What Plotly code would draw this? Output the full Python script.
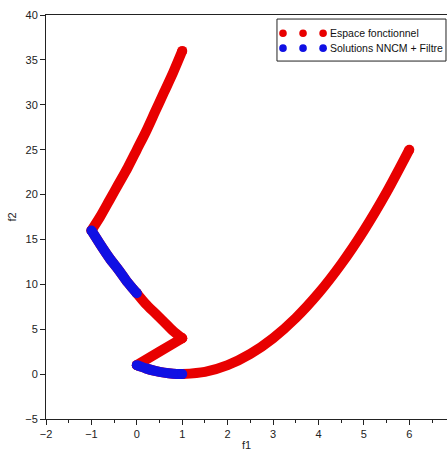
import plotly.graph_objects as go

# ---- data (f1, f2) ----
seg_a_f1 = [1.0, 0.8, 0.6, 0.4, 0.2, 0.0, -0.2, -0.4, -0.6, -0.8, -1.0]
seg_a_f2 = [36.0, 33.6, 31.4, 29.2, 27.0, 25.0, 23.0, 21.2, 19.4, 17.6, 16.0]

seg_b_f1 = [-1.0, -0.8, -0.6, -0.4, -0.2, 0.0]
seg_b_f2 = [16.0, 14.4, 12.9, 11.6, 10.2, 9.0]

seg_c_f1 = [0.0, 0.2, 0.4, 0.6, 0.8, 1.0]
seg_c_f2 = [9.0, 7.8, 6.8, 5.8, 4.8, 4.0]

seg_d_f1 = [1.0, 0.5, 0.0]
seg_d_f2 = [4.0, 2.5, 1.0]

seg_e_f1 = [0.0, 0.2, 0.4, 0.6, 0.8, 1.0]
seg_e_f2 = [1.0, 0.64, 0.36, 0.16, 0.04, 0.0]

seg_f_f1 = [1.0, 1.5, 2.0, 2.5, 3.0, 3.5, 4.0, 4.5, 5.0, 5.5, 6.0]
seg_f_f2 = [0.0, 0.25, 1.0, 2.25, 4.0, 6.25, 9.0, 12.25, 16.0, 20.25, 25.0]

x_ticks = [-2, -1, 0, 1, 2, 3, 4, 5, 6, 7]
y_ticks = [-5, 0, 5, 10, 15, 20, 25, 30, 35, 40]

legend_names = ["Espace fonctionnel", "Solutions NNCM + Filtre"]

RED = "rgb(232,0,0)"
BLUE = "rgb(16,16,228)"
FONT = "Liberation Sans, Arial, sans-serif"


def join(segs):
    out = []
    for i, s in enumerate(segs):
        if i:
            out.append(None)
        out.extend(s)
    return out


# full functional space
red_x = join([seg_a_f1, seg_b_f1, seg_c_f1, seg_d_f1, seg_e_f1, seg_f_f1])
red_y = join([seg_a_f2, seg_b_f2, seg_c_f2, seg_d_f2, seg_e_f2, seg_f_f2])
# solutions subset
blue_x = join([seg_b_f1, seg_e_f1])
blue_y = join([seg_b_f2, seg_e_f2])


def ends_only(vals):
    # keep marker only at segment endpoints (for round caps)
    sizes = []
    for i, v in enumerate(vals):
        first = i == 0 or vals[i - 1] is None
        last = i == len(vals) - 1 or vals[i + 1] is None
        sizes.append(10 if (first or last) else 0)
    return sizes


fig = go.Figure()
fig.add_trace(go.Scatter(x=red_x, y=red_y, mode="lines+markers", name=legend_names[0],
                         line=dict(color=RED, width=10, shape="spline", smoothing=0.8),
                         marker=dict(color=RED, size=ends_only(red_x), opacity=1, line=dict(width=0)),
                         showlegend=False, hoverinfo="skip", connectgaps=False))
fig.add_trace(go.Scatter(x=blue_x, y=blue_y, mode="lines+markers", name=legend_names[1],
                         line=dict(color=BLUE, width=10, shape="spline", smoothing=0.8),
                         marker=dict(color=BLUE, size=ends_only(blue_x), opacity=1, line=dict(width=0)),
                         showlegend=False, hoverinfo="skip", connectgaps=False))

# ---- custom legend (box, dots, labels) ----
shapes = [dict(type="rect", xref="paper", yref="paper", x0=0.576, x1=0.9975, y0=0.886, y1=0.990,
               line=dict(color="#222", width=1), fillcolor="white", layer="above")]
dot_xs = [0.591, 0.641, 0.691]
rows = [(0.955, RED), (0.918, BLUE)]
for ry, col in rows:
    for dx in dot_xs:
        shapes.append(dict(type="circle", xref="paper", yref="paper", xsizemode="pixel",
                           ysizemode="pixel", xanchor=dx, yanchor=ry, x0=-3.8, x1=3.8,
                           y0=-3.8, y1=3.8, fillcolor=col, line=dict(width=0), layer="above"))
annotations = []
for (ry, col), name in zip(rows, legend_names):
    annotations.append(dict(xref="paper", yref="paper", x=0.703, y=ry, text=name,
                            showarrow=False, xanchor="left", yanchor="middle",
                            font=dict(family=FONT, size=10.5, color="#111")))

fig.update_layout(
    width=447, height=453,
    margin=dict(l=46, r=0, t=15, b=34),
    paper_bgcolor="white", plot_bgcolor="white",
    showlegend=False,
    shapes=shapes, annotations=annotations,
    font=dict(family=FONT, size=11, color="#222"),
    xaxis=dict(range=[-2, 6.83], tickvals=x_ticks, ticks="outside", ticklen=5,
               tickcolor="#222", showline=True, linecolor="#222", linewidth=1,
               mirror=True, showgrid=False, zeroline=False,
               minor=dict(dtick=0.5, ticks="outside", ticklen=3, tickcolor="#222", showgrid=False),
               title=dict(text="f1", font=dict(size=11), standoff=2)),
    yaxis=dict(range=[-5, 40], tickvals=y_ticks, ticks="outside", ticklen=5,
               tickcolor="#222", showline=True, linecolor="#222", linewidth=1,
               showgrid=False, zeroline=False,
               title=dict(text="f2", font=dict(size=11), standoff=6)),
)

fig.write_html("out.html")
